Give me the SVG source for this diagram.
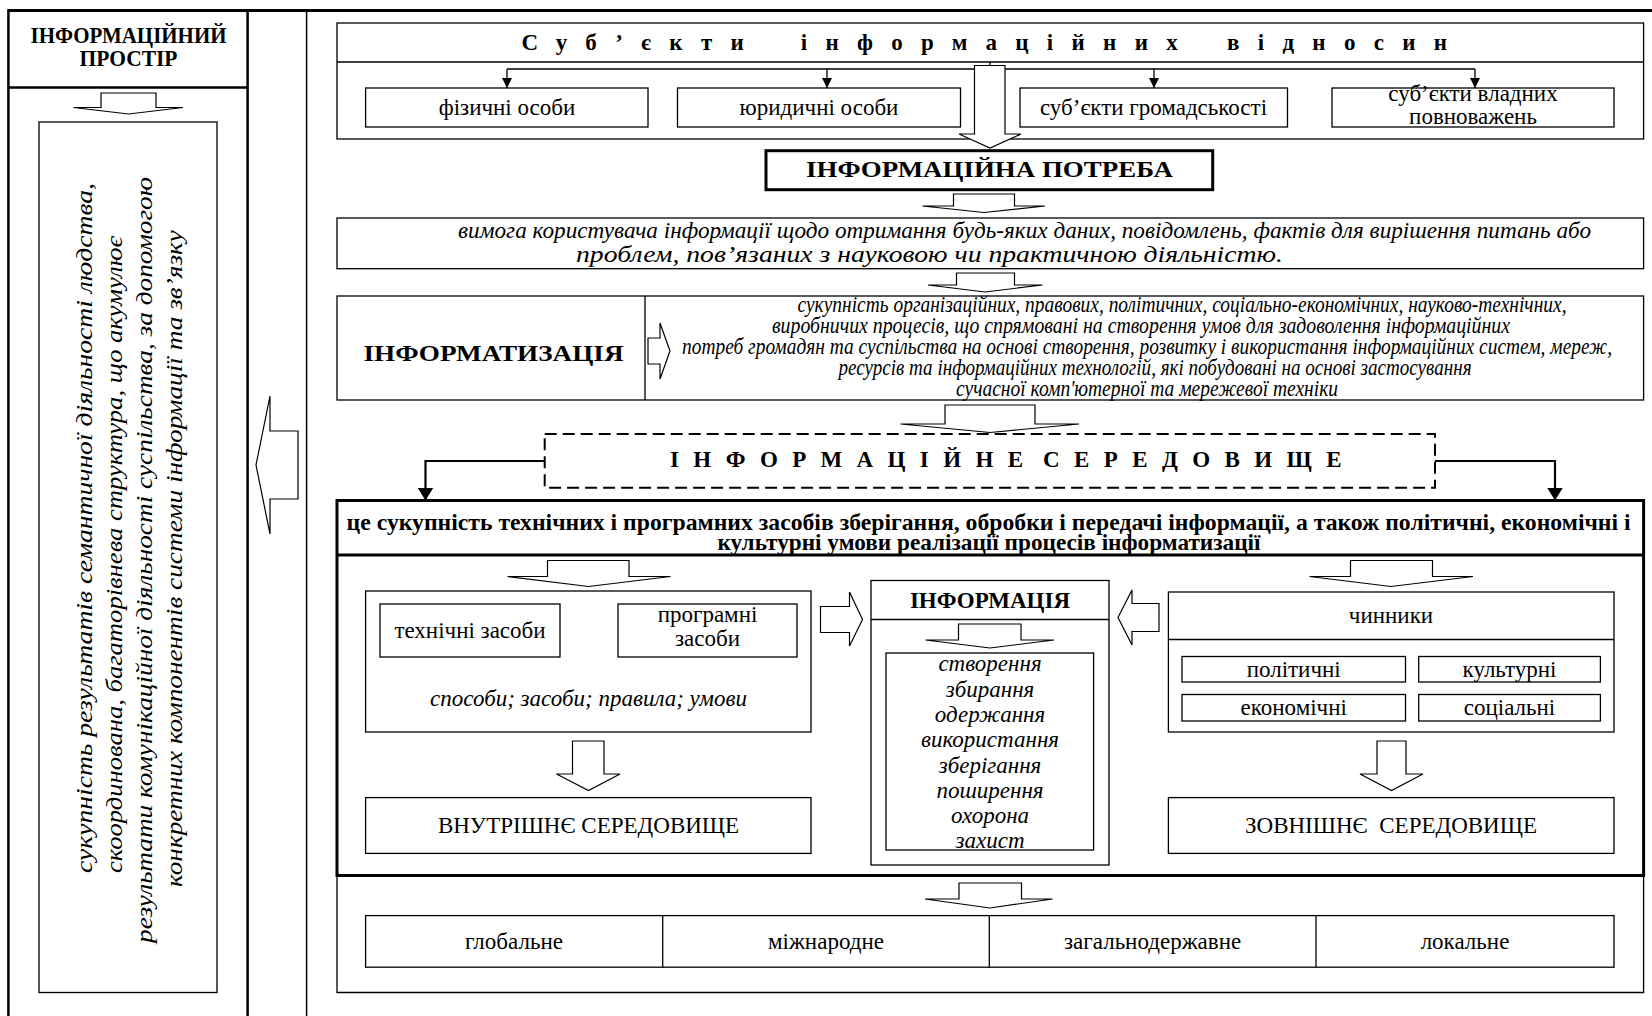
<svg xmlns="http://www.w3.org/2000/svg" width="1652" height="1016" viewBox="0 0 1652 1016">
<style>
.t{font-family:"Liberation Serif","Times New Roman",serif;font-size:23px;fill:#000}
.i{font-style:italic}
.b{font-weight:bold}
.box{fill:#fff;stroke:#000;stroke-width:1.3}
.thick{fill:#fff;stroke:#000;stroke-width:3}
.arr{fill:#fff;stroke:#000;stroke-width:1.2}
.ln{fill:none;stroke:#000;stroke-width:1.3}
.ln2{fill:none;stroke:#000;stroke-width:2.2}
</style>
<defs>
<marker id="ms" viewBox="0 0 10 10" refX="10" refY="5" markerWidth="10" markerHeight="10" markerUnits="userSpaceOnUse" orient="auto"><path d="M0,0 L10,5 L0,10 z" fill="#000"/></marker>
<marker id="ml" viewBox="0 0 13 16" refX="13" refY="8" markerWidth="13" markerHeight="16" markerUnits="userSpaceOnUse" orient="auto"><path d="M0,0 L13,8 L0,16 z" fill="#000"/></marker>
</defs>
<rect width="1652" height="1016" fill="#fff"/>

<g id="frame">
<line x1="8" y1="10.5" x2="1652" y2="10.5" stroke="#000" stroke-width="3"/>
<rect x="8.4" y="10.5" width="239.2" height="1020" fill="none" stroke="#000" stroke-width="2.5"/>
<line x1="8.4" y1="87.5" x2="247.6" y2="87.5" stroke="#000" stroke-width="2.5"/>
<line x1="306.6" y1="10.5" x2="306.6" y2="1016" stroke="#000" stroke-width="1.5"/>
</g>

<g id="prostir-title">
<text class="t b" font-size="19.5" x="128.5" y="43" text-anchor="middle" textLength="196" lengthAdjust="spacingAndGlyphs">ІНФОРМАЦІЙНИЙ</text>
<text class="t b" font-size="19.5" x="128.5" y="66" text-anchor="middle" textLength="98" lengthAdjust="spacingAndGlyphs">ПРОСТІР</text>
</g>

<g id="prostir-def">
<rect class="box" x="39" y="122" width="178" height="870.5"/>
<text class="t i" font-size="26" transform="translate(92,873) rotate(-90)" textLength="690" lengthAdjust="spacingAndGlyphs">сукупність результатів семантичної діяльності людства,</text>
<text class="t i" font-size="26" transform="translate(122,873) rotate(-90)" textLength="637" lengthAdjust="spacingAndGlyphs">скоординована, багаторівнева структура, що акумулює</text>
<text class="t i" font-size="26" transform="translate(152,943) rotate(-90)" textLength="766" lengthAdjust="spacingAndGlyphs">результати комунікаційної діяльності суспільства, за допомогою</text>
<text class="t i" font-size="26" transform="translate(182,887) rotate(-90)" textLength="657" lengthAdjust="spacingAndGlyphs">конкретних компонентів системи інформації та зв’язку</text>
</g>

<g id="subjects">
<rect class="box" x="337" y="23" width="1306.6" height="116"/>
<line class="ln" x1="337" y1="62" x2="1643.6" y2="62"/>
<text class="t b" font-size="20" y="50" letter-spacing="18.3"><tspan x="521.5">Суб’єкти</tspan><tspan x="800.7">інформаційних</tspan><tspan x="1227">відносин</tspan></text>
</g>
<g id="fizychni"><rect class="box" x="365.6" y="88" width="282.4" height="39"/><text class="t" x="507" y="115" text-anchor="middle">фізичні особи</text></g>
<g id="yurydychni"><rect class="box" x="677.5" y="88" width="283" height="39"/><text class="t" x="819" y="115" text-anchor="middle">юридичні особи</text></g>
<g id="hromadskist"><rect class="box" x="1020" y="88" width="267.5" height="39"/><text class="t" x="1153.5" y="115" text-anchor="middle">суб’єкти громадськості</text></g>
<g id="vladni"><rect class="box" x="1332" y="88" width="282" height="39"/><text class="t" x="1473" y="101" text-anchor="middle">суб’єкти владних</text><text class="t" x="1473" y="124" text-anchor="middle">повноважень</text></g>

<g id="potreba">
<rect class="thick" x="766" y="150.7" width="446.7" height="39"/>
<text class="t b" font-size="26" x="989.5" y="177" text-anchor="middle" textLength="367" lengthAdjust="spacingAndGlyphs">ІНФОРМАЦІЙНА ПОТРЕБА</text>
</g>

<g id="vymoha">
<rect class="box" x="337" y="218" width="1306.6" height="50.7"/>
<text class="t i" font-size="22" x="458" y="238" textLength="1133" lengthAdjust="spacingAndGlyphs">вимога користувача інформації щодо отримання будь-яких даних, повідомлень, фактів для вирішення питань або</text>
<text class="t i" font-size="22" x="576" y="262" textLength="707" lengthAdjust="spacingAndGlyphs">проблем, пов’язаних з науковою чи практичною діяльністю.</text>
</g>

<g id="informatyzatsiia">
<rect class="box" x="337" y="296" width="1306.6" height="104"/>
<line class="ln" x1="645" y1="296" x2="645" y2="400"/>
<text class="t b" font-size="26" x="493.5" y="361" text-anchor="middle" textLength="260" lengthAdjust="spacingAndGlyphs">ІНФОРМАТИЗАЦІЯ</text>
<g class="t i" font-size="16" text-anchor="middle" xml:space="preserve">
<text x="1182" y="312" textLength="769" lengthAdjust="spacingAndGlyphs">сукупність організаційних, правових, політичних, соціально-економічних,  науково-технічних,</text>
<text x="1141" y="333" textLength="738" lengthAdjust="spacingAndGlyphs">виробничих процесів, що спрямовані на створення умов для  задоволення інформаційних</text>
<text x="1147" y="353.5" textLength="930" lengthAdjust="spacingAndGlyphs">потреб громадян та суспільства на основі створення,  розвитку і використання інформаційних систем, мереж,</text>
<text x="1155" y="375" textLength="633" lengthAdjust="spacingAndGlyphs">ресурсів та інформаційних  технологій, які побудовані на основі застосування</text>
<text x="1147" y="396" textLength="382" lengthAdjust="spacingAndGlyphs">сучасної комп'ютерної та мережевої техніки</text>
</g>
</g>

<g id="seredovyshche">
<rect x="544.7" y="434" width="890.3" height="53.8" fill="#fff" stroke="#000" stroke-width="2" stroke-dasharray="12 6"/>
<text class="t b" font-size="21" y="467" letter-spacing="14.4"><tspan x="670">ІНФОРМАЦІЙНЕ</tspan><tspan x="1043">СЕРЕДОВИЩЕ</tspan></text>
</g>

<g id="seredovyshche-def">
<rect x="337" y="500.5" width="1306.6" height="375" style="fill:none;stroke:#000;stroke-width:3"/>
<line x1="337" y1="555" x2="1643.6" y2="555" stroke="#000" stroke-width="3"/>
<text class="t b" font-size="18.5" x="346.6" y="529.5" textLength="1284" lengthAdjust="spacingAndGlyphs">це сукупність технічних і програмних засобів зберігання, обробки і передачі інформації, а також політичні, економічні і</text>
<text class="t b" font-size="18.5" x="989" y="550" text-anchor="middle" textLength="543" lengthAdjust="spacingAndGlyphs">культурні умови реалізації процесів інформатизації</text>
</g>

<g id="zasoby">
<rect class="box" x="365.6" y="591" width="445.4" height="141"/>
<rect class="box" x="380" y="604" width="180" height="53"/>
<text class="t" x="470" y="638" text-anchor="middle">технічні засоби</text>
<rect class="box" x="618" y="604" width="179" height="53"/>
<text class="t" x="707.5" y="622" text-anchor="middle">програмні</text>
<text class="t" x="707.5" y="646" text-anchor="middle">засоби</text>
<text class="t i" x="588.5" y="706" text-anchor="middle">способи; засоби; правила; умови</text>
</g>

<g id="vnutrishnie">
<rect class="box" x="365.6" y="797.6" width="445.4" height="55.8"/>
<text class="t" font-size="23.5" x="588.5" y="833" text-anchor="middle">ВНУТРІШНЄ СЕРЕДОВИЩЕ</text>
</g>

<g id="informatsiia">
<rect class="box" x="871" y="580.5" width="238" height="284.5"/>
<line class="ln" x1="871" y1="619.5" x2="1109" y2="619.5"/>
<text class="t b" x="990" y="607.5" text-anchor="middle">ІНФОРМАЦІЯ</text>
<rect class="box" x="886" y="653" width="207.6" height="197"/>
<g class="t i" font-size="23.5" text-anchor="middle">
<text x="990" y="671">створення</text>
<text x="990" y="696.5">збирання</text>
<text x="990" y="722">одержання</text>
<text x="990" y="747">використання</text>
<text x="990" y="772.5">зберігання</text>
<text x="990" y="797.5">поширення</text>
<text x="990" y="823">охорона</text>
<text x="990" y="847.5">захист</text>
</g>
</g>

<g id="chynnyky">
<rect class="box" x="1168.4" y="592" width="445.6" height="140"/>
<line class="ln" x1="1168.4" y1="639.5" x2="1614" y2="639.5"/>
<text class="t" x="1391" y="623" text-anchor="middle">чинники</text>
<rect class="box" x="1182" y="656.5" width="223.5" height="25.5"/>
<text class="t" x="1293.7" y="677" text-anchor="middle">політичні</text>
<rect class="box" x="1418.7" y="656.5" width="181.7" height="25.5"/>
<text class="t" x="1509.5" y="677" text-anchor="middle">культурні</text>
<rect class="box" x="1182" y="694.5" width="223.5" height="26.5"/>
<text class="t" x="1293.7" y="715" text-anchor="middle">економічні</text>
<rect class="box" x="1418.7" y="694.5" width="181.7" height="26.5"/>
<text class="t" x="1509.5" y="715" text-anchor="middle">соціальні</text>
</g>

<g id="zovnishnie">
<rect class="box" x="1168.4" y="797.6" width="445.6" height="55.8"/>
<text class="t" font-size="23.5" x="1391" y="833" text-anchor="middle" xml:space="preserve">ЗОВНІШНЄ  СЕРЕДОВИЩЕ</text>
</g>

<g id="rivni">
<path class="ln" d="M337,875.5 V992.5 H1643.6 V875.5"/>
<rect class="box" x="365.6" y="915.6" width="1248.4" height="51.6"/>
<path class="ln" d="M662.7,915.6 V967.2 M989.3,915.6 V967.2 M1316,915.6 V967.2"/>
<g class="t" font-size="23.5" text-anchor="middle">
<text x="514" y="949">глобальне</text>
<text x="826" y="949">міжнародне</text>
<text x="1152.6" y="949">загальнодержавне</text>
<text x="1465" y="949">локальне</text>
</g>
</g>

<g id="connectors">
<path class="ln" d="M990,62 V69 M507,69 H1475"/>
<path class="ln" d="M507,69 V88" marker-end="url(#ms)"/>
<path class="ln" d="M827,69 V88" marker-end="url(#ms)"/>
<path class="ln" d="M1154,69 V88" marker-end="url(#ms)"/>
<path class="ln" d="M1475,69 V88" marker-end="url(#ms)"/>
<path class="ln2" d="M544.7,461 H425.5 V500.5" marker-end="url(#ml)"/>
<path class="ln2" d="M1435,461 H1555 V500.5" marker-end="url(#ml)"/>
</g>

<g id="arrows">
<path class="arr" d="M101,93 H156 V107.5 H183 L128.5,114 L73.5,107.5 H101 Z"/>
<path class="arr" d="M974.5,65.5 H1005 V134 H1021 L990,148 L959,134 H974.5 Z"/>
<path class="arr" d="M953.5,194 H1014.5 V206 H1045 L984,212.5 L922.5,206 H953.5 Z"/>
<path class="arr" d="M956.5,273 H1014.5 V285 H1042.5 L985,292 L928,285 H956.5 Z"/>
<path class="arr" d="M945,405 H1035 V424 H1079 L990,432.5 L900.5,424 H945 Z"/>
<path class="arr" d="M547.5,560.5 H629 V576.5 H670.5 L588.5,586.5 L507.5,576.5 H547.5 Z"/>
<path class="arr" d="M1350.5,560.5 H1432.5 V576.5 H1473 L1391,586.5 L1309.5,576.5 H1350.5 Z"/>
<path class="arr" d="M958.5,624 H1021 V640 H1054 L990,648 L925.5,640 H958.5 Z"/>
<path class="arr" d="M959,883 H1021.5 V899 H1052.5 L990,908 L925,899 H959 Z"/>
<path class="arr" d="M572.5,741 H604 V774 H620 L588.5,790.5 L556.5,774 H572.5 Z"/>
<path class="arr" d="M1377,741 H1406 V774 H1423 L1391.5,790.5 L1360,774 H1377 Z"/>
<path class="arr" d="M820.5,606.5 H849.5 V592 L862.5,619.5 L849.5,646 V632.5 H820.5 Z"/>
<path class="arr" d="M1159,603.5 H1132 V590 L1118,617.5 L1132,645 V631.5 H1159 Z"/>
<path class="arr" d="M648,338 H660 V323 L670,351 L660,379 V364 H648 Z"/>
<path class="arr" d="M298,431 H270 V396 L256,465 L270,534 V499 H298 Z"/>
</g>
</svg>
